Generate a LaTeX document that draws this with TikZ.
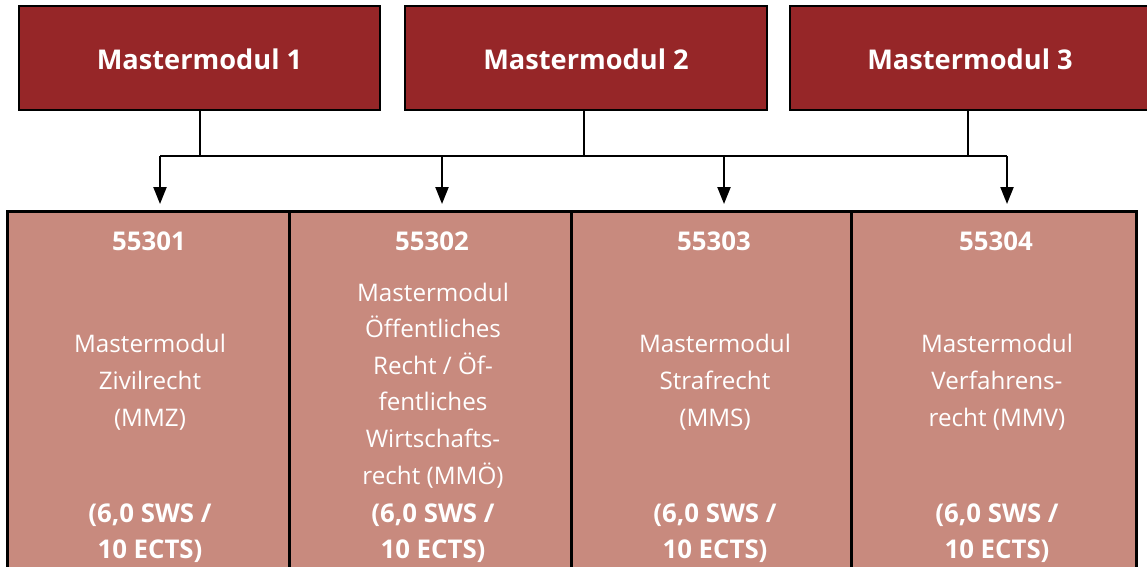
\documentclass[tikz,border=0pt]{standalone}
\usepackage{fontspec}
\setmainfont{Open Sans}
\usetikzlibrary{arrows.meta}
\definecolor{darkred}{RGB}{150,38,40}
\definecolor{pinkbox}{RGB}{200,138,126}
\begin{document}
\begin{tikzpicture}[x=1pt,y=-1pt,
  topbox/.style={draw=black, line width=2.6pt, fill=darkred, minimum width=361pt, minimum height=104pt, inner sep=0pt},
  lowbox/.style={draw=black, line width=3pt, fill=pinkbox, minimum height=390pt, inner sep=0pt},
  toptxt/.style={font=\bfseries\fontsize{27.2}{27.2}\selectfont, text=white, anchor=base, inner sep=0pt},
  numtxt/.style={font=\bfseries\fontsize{25.8}{25.8}\selectfont, text=white, anchor=base, inner sep=0pt},
  bodytxt/.style={font=\fontsize{24.2}{24.2}\selectfont, text=white, anchor=base, inner sep=0pt},
  conn/.style={draw=black, line width=2.2pt},
  arr/.style={conn, -{Triangle[length=17pt, width=13pt]}, shorten >=0pt}]
\clip (0,0) rectangle (1147,566);
\useasboundingbox (0,0) rectangle (1147,566);
\fill[white] (0,0) rectangle (1147,566);
% top boxes
\node[topbox] (m1) at (199.5,58) {};
\node[topbox, minimum width=362pt] (m2) at (586,58) {};
\node[topbox, minimum width=362pt] (m3) at (971,58) {};
\node[toptxt] (m1t) at (199.5,69) {Mastermodul 1};
\node[toptxt] (m2t) at (586,69) {Mastermodul 2};
\node[toptxt] (m3t) at (970,69) {Mastermodul 3};
% bottom boxes
\node[lowbox, minimum width=282pt] (b1) at (148,406) {};
\node[lowbox, minimum width=282pt] (b2) at (430,406) {};
\node[lowbox, minimum width=282pt] (b3) at (712,406) {};
\node[lowbox, minimum width=285pt] (b4) at (993.5,406) {};
% connectors
\coordinate (j1) at (200,156);
\coordinate (j2) at (584,156);
\coordinate (j3) at (968,156);
\coordinate (h1) at (160,156);
\coordinate (h2) at (442,156);
\coordinate (h3) at (724,156);
\coordinate (h4) at (1007,156);
\coordinate (e1) at (160,204);
\coordinate (e2) at (442,204);
\coordinate (e3) at (724,204);
\coordinate (e4) at (1007,204);
\draw[conn] (m1.south -| j1) -- (j1);
\draw[conn] (m2.south -| j2) -- (j2);
\draw[conn] (m3.south -| j3) -- (j3);
\draw[conn] (h1) -- (h4);
\draw[arr] (h1) -- (e1);
\draw[arr] (h2) -- (e2);
\draw[arr] (h3) -- (e3);
\draw[arr] (h4) -- (e4);
% texts box 1
\node[numtxt] (n1) at (149,250) {55301};
\node[bodytxt] (t1a) at (150,352) {Mastermodul};
\node[bodytxt] (t1b) at (150,389) {Zivilrecht};
\node[bodytxt] (t1c) at (150,426) {(MMZ)};
\node[numtxt] (s1a) at (150,522) {(6,0 SWS /};
\node[numtxt] (s1b) at (150,558) {10 ECTS)};
% texts box 2
\node[numtxt] (n2) at (432,250) {55302};
\node[bodytxt] (t2a) at (433,301) {Mastermodul};
\node[bodytxt] (t2b) at (433,337) {Öffentliches};
\node[bodytxt] (t2c) at (433,374) {Recht / Öf-};
\node[bodytxt] (t2d) at (433,410) {fentliches};
\node[bodytxt] (t2e) at (433,447) {Wirtschafts-};
\node[bodytxt] (t2f) at (433,484) {recht (MMÖ)};
\node[numtxt] (s2a) at (433,522) {(6,0 SWS /};
\node[numtxt] (s2b) at (433,558) {10 ECTS)};
% texts box 3
\node[numtxt] (n3) at (714,250) {55303};
\node[bodytxt] (t3a) at (715,352) {Mastermodul};
\node[bodytxt] (t3b) at (715,389) {Strafrecht};
\node[bodytxt] (t3c) at (715,426) {(MMS)};
\node[numtxt] (s3a) at (715,522) {(6,0 SWS /};
\node[numtxt] (s3b) at (715,558) {10 ECTS)};
% texts box 4
\node[numtxt] (n4) at (996,250) {55304};
\node[bodytxt] (t4a) at (997,352) {Mastermodul};
\node[bodytxt] (t4b) at (997,389) {Verfahrens-};
\node[bodytxt] (t4c) at (997,426) {recht (MMV)};
\node[numtxt] (s4a) at (997,522) {(6,0 SWS /};
\node[numtxt] (s4b) at (997,558) {10 ECTS)};
\end{tikzpicture}
\end{document}
